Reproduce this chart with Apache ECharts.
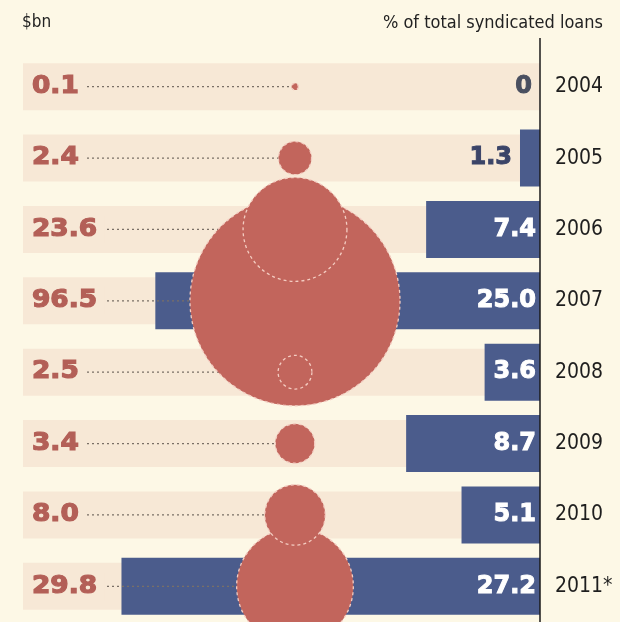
<!DOCTYPE html>
<html>
<head>
<meta charset="utf-8">
<script src="https://cdn.jsdelivr.net/npm/echarts@6/dist/echarts.min.js"></script>
<style>
  html, body { margin: 0; padding: 0; background: #fdf8e6; }
  #chart { width: 620px; height: 622px; }
</style>
</head>
<body>
<div id="chart"></div>
<script>
// Years, their axis labels, and the two measures shown per year
const years = ['2004', '2005', '2006', '2007', '2008', '2009', '2010', '2011'];
const yearLabels = ['2004', '2005', '2006', '2007', '2008', '2009', '2010', '2011*'];
const loansBn = [0.1, 2.4, 23.6, 96.5, 2.5, 3.4, 8.0, 29.8];     // $bn, drawn as circles
const sharePct = [0, 1.3, 7.4, 25.0, 3.6, 8.7, 5.1, 27.2];       // % of total syndicated loans, bars

// Palette
const BG = '#fdf8e6';
const BAND = '#f7e8d6';
const BAR = '#4b5c8c';
const CIRCLE = '#c2655c';
const CIRCLE_EDGE = '#f4cdc2';
const RED_TEXT = '#b35f57';
const NAVY_TEXT = '#3b4468';

// Layout
const AXIS_X = 540;            // the vertical rule the bars grow out of
const BAND_LEFT = 23;
const GRID_TOP = 51;
const GRID_HEIGHT = 578;
const SHARE_MAX = 33.6;        // % value reaching the left edge of the bands
const CIRCLE_X = 295;          // centre column for the bubbles
const BIGGEST_RADIUS = 105;
const LABEL_X = 32;
const NUM_FAMILY = '"DejaVu Sans", sans-serif';
const YEAR_FAMILY = '"DejaVu Sans Condensed", "Liberation Sans Narrow", "Liberation Sans", sans-serif';

const maxLoan = Math.max(...loansBn);
function circleRadius(v) {
  return BIGGEST_RADIUS * Math.sqrt(v / maxLoan);
}

// Larger bubbles first so the smaller ones sit on top of them
const drawOrder = loansBn.map((v, i) => i).sort((a, b) => loansBn[b] - loansBn[a]);

const chart = echarts.init(document.getElementById('chart'), null, { renderer: 'canvas' });

// Heavy numerals: bold face thickened with a same-colour outline
function numLabel(color) {
  return { fontFamily: NUM_FAMILY, fontWeight: 'bold', fontSize: 24,
           color: color, textBorderColor: color, textBorderWidth: 1 };
}

const option = {
  backgroundColor: BG,
  animation: false,
  title: [
    { text: '$bn', left: 17, top: 9,
      textStyle: { fontFamily: YEAR_FAMILY, fontSize: 17, fontWeight: 'normal', color: '#222' } },
    { text: '% of total syndicated loans', right: 12, top: 9,
      textStyle: { fontFamily: YEAR_FAMILY, fontSize: 18, fontWeight: 'normal', color: '#222' } }
  ],
  grid: [
    { left: BAND_LEFT, right: 620 - AXIS_X, top: GRID_TOP, height: GRID_HEIGHT },
    { left: CIRCLE_X - 100, width: 200, top: GRID_TOP, height: GRID_HEIGHT }
  ],
  xAxis: [
    { gridIndex: 0, type: 'value', min: 0, max: SHARE_MAX, inverse: true, show: false },
    { gridIndex: 1, type: 'category', data: [''], show: false }
  ],
  yAxis: [
    {
      gridIndex: 0, type: 'category', data: years, inverse: true, position: 'right',
      axisLine: { show: false }, axisTick: { show: false }, splitLine: { show: false },
      axisLabel: {
        margin: 15, color: '#1e1e1e', fontSize: 21, fontFamily: YEAR_FAMILY,
        formatter: (v, i) => yearLabels[i]
      }
    },
    { gridIndex: 1, type: 'category', data: years, inverse: true, show: false }
  ],
  graphic: [
    {
      type: 'line', z: 10, silent: true,
      shape: { x1: AXIS_X, y1: 38, x2: AXIS_X, y2: 622 },
      style: { stroke: '#1a1a1a', lineWidth: 1.5 }
    }
  ],
  series: [
    {
      // Pale row bands behind each year
      type: 'custom', name: 'bands', xAxisIndex: 0, yAxisIndex: 0, z: 1, silent: true,
      data: years.map(y => [SHARE_MAX, y]),
      renderItem: function (params, api) {
        const a = api.coord([api.value(0), api.value(1)]);
        const b = api.coord([0, api.value(1)]);
        const h = 47;
        return { type: 'rect', shape: { x: a[0], y: a[1] - h / 2, width: b[0] - a[0], height: h },
                 style: { fill: BAND } };
      }
    },
    {
      type: 'bar', name: 'share', xAxisIndex: 0, yAxisIndex: 0, z: 2,
      barWidth: 57,
      itemStyle: { color: BAR },
      data: sharePct.map(v => ({
        value: v,
        label: v < 3
          ? Object.assign({ show: true, position: 'left', distance: 8 },
                          numLabel(v === 0 ? '#4a4f60' : NAVY_TEXT))
          : Object.assign({ show: true, position: 'insideRight', distance: 4 },
                          numLabel('#ffffff'))
      })),
      label: {
        formatter: p => (p.value === 0 ? '0' : p.value.toFixed(1))
      }
    },
    {
      // Value labels on the left with dotted leaders running to each bubble
      type: 'custom', name: 'leaders', xAxisIndex: 1, yAxisIndex: 1, z: 3, silent: true, clip: false,
      data: loansBn.map((v, i) => [0, years[i], v]),
      renderItem: function (params, api) {
        const c = api.coord([0, api.value(1)]);
        const v = api.value(2);
        const r = circleRadius(v);
        return {
          type: 'group',
          children: [
            { type: 'line', shape: { x1: LABEL_X + 10, y1: c[1], x2: c[0] - r, y2: c[1] },
              style: { stroke: '#7a6f66', lineWidth: 1.2, lineDash: [2, 3] } },
            { type: 'text', x: LABEL_X, y: c[1], scaleX: 1.1,
              style: { text: v.toFixed(1), font: 'bold 24px "DejaVu Sans", sans-serif',
                       fill: RED_TEXT, stroke: RED_TEXT, lineWidth: 1.2,
                       verticalAlign: 'middle', align: 'left',
                       backgroundColor: BAND, padding: [2, 7, 2, 0] } }
          ]
        };
      }
    },
    {
      type: 'scatter', name: 'loans', xAxisIndex: 1, yAxisIndex: 1, z: 4, silent: true,
      symbol: 'circle',
      symbolSize: val => 2 * circleRadius(val[2]),
      itemStyle: { color: CIRCLE, opacity: 1, borderColor: CIRCLE_EDGE, borderWidth: 1.3, borderType: [3, 3] },
      data: drawOrder.map(i => [0, years[i], loansBn[i]])
    }
  ]
};

chart.setOption(option);
</script>
</body>
</html>
